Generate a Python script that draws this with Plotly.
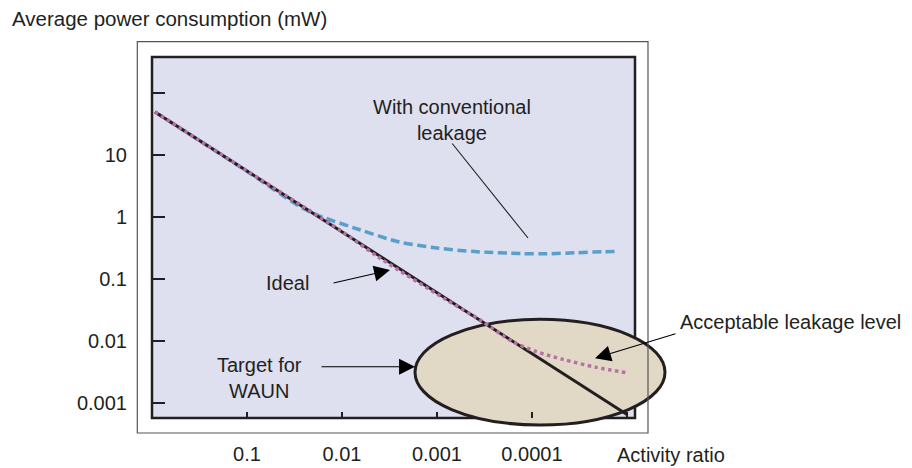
import plotly.graph_objects as go

# ---- data ----
ideal_activity = [0.93, 0.1, 0.01, 0.001, 0.0001, 0.00001]
ideal_power = [50, 5.6, 0.59, 0.062, 0.0065, 0.00066]

conv_activity = [0.93, 0.1, 0.03, 0.02, 0.0065, 0.0025, 0.001, 0.0004, 0.00013,
                 0.00007, 0.000035, 0.000018, 0.0000127]
conv_power = [50, 5.5, 1.6, 1.15, 0.63, 0.40, 0.32, 0.28, 0.26,
              0.258, 0.268, 0.278, 0.282]

acc_activity = [0.93, 0.1, 0.01, 0.004, 0.0008, 0.00035, 0.00016, 0.00009,
                0.000047, 0.000021, 0.00001]
acc_power = [50, 5.6, 0.59, 0.22, 0.047, 0.022, 0.0099, 0.0068,
             0.0051, 0.0038, 0.0031]

x_tickvals = [0.1, 0.01, 0.001, 0.0001, 0.00001]
x_ticktext = ["0.1", "0.01", "0.001", "0.0001", ""]
y_tickvals = [0.001, 0.01, 0.1, 1, 10, 100]
y_ticktext = ["0.001", "0.01", "0.1", "1", "10", ""]

# ---- styles ----
INK = "#231F20"
LAVENDER = "#DEDFEF"
BEIGE = "#E1D9C6"
BLUE = "#5A9FC9"
PINK = "#B672A6"
FONT = "Liberation Sans, Arial, sans-serif"
FS = 20

fig = go.Figure()
fig.add_trace(go.Scatter(x=conv_activity, y=conv_power, mode="lines",
                         line=dict(color=BLUE, width=3.5, dash="9px,4.5px", shape="spline", smoothing=0.8),
                         hoverinfo="skip", showlegend=False))
fig.add_trace(go.Scatter(x=ideal_activity, y=ideal_power, mode="lines",
                         line=dict(color=INK, width=3),
                         hoverinfo="skip", showlegend=False))
fig.add_trace(go.Scatter(x=acc_activity, y=acc_power, mode="lines",
                         line=dict(color=PINK, width=3.5, dash="dot", shape="spline", smoothing=0.8),
                         hoverinfo="skip", showlegend=False))

# plot geometry in pixels (for placing decorations)
L, R, T, B = 152, 635, 57, 418
W, H = R - L, B - T


def px(x):
    return (x - L) / W


def py(y):
    return (B - y) / H


shapes = [
    # inner plot frame
    dict(type="rect", xref="x domain", yref="y domain", x0=0, x1=1, y0=0, y1=1,
         line=dict(color=INK, width=2.5), fillcolor=LAVENDER, layer="below"),
    # target ellipse
    dict(type="circle", xref="x domain", yref="y domain",
         x0=px(415), x1=px(665), y0=py(425), y1=py(319.3),
         line=dict(color=INK, width=3), fillcolor=BEIGE, layer="below"),
    # outer frame
    dict(type="rect", xref="x domain", yref="y domain",
         x0=px(137.3), x1=px(648), y0=py(433), y1=py(41.7),
         line=dict(color="#555555", width=1.2), fillcolor="rgba(0,0,0,0)", layer="below"),
]

tf = dict(family=FONT, size=FS, color=INK)
annotations = [
    dict(text="Average power consumption (mW)", xref="paper", yref="paper",
         x=px(10), y=py(18.5), xanchor="left", yanchor="middle", showarrow=False,
         font=dict(family=FONT, size=20.5, color=INK)),
    dict(text="Activity ratio", xref="paper", yref="paper",
         x=px(615), y=py(455), xanchor="left", yanchor="middle", showarrow=False, font=tf),
    dict(text="With conventional<br>leakage", xref="paper", yref="paper",
         x=px(452), y=py(120), xanchor="center", yanchor="middle", showarrow=False, font=tf),
    dict(text="Ideal", xref="paper", yref="paper",
         x=px(287.5), y=py(282.5), xanchor="center", yanchor="middle", showarrow=False, font=tf),
    dict(text="Target for<br>WAUN", xref="paper", yref="paper",
         x=px(259), y=py(378), xanchor="center", yanchor="middle", showarrow=False, font=tf),
    dict(text="Acceptable leakage level", xref="paper", yref="paper",
         x=px(678), y=py(322), xanchor="left", yanchor="middle", showarrow=False, font=tf),
    # pointer lines / arrows
    dict(text="", xref="paper", yref="paper", x=px(528), y=py(238),
         ax=451 - 528, ay=142 - 238, showarrow=True, arrowhead=0, arrowwidth=1.1, arrowcolor=INK),
    dict(text="", xref="paper", yref="paper", x=px(390), y=py(270),
         ax=332 - 390, ay=283.3 - 270, showarrow=True, arrowhead=2, arrowsize=2.9,
         arrowwidth=1.1, arrowcolor="#000000"),
    dict(text="", xref="paper", yref="paper", x=px(415), y=py(366.7),
         ax=320 - 415, ay=0, showarrow=True, arrowhead=2, arrowsize=2.9,
         arrowwidth=1.1, arrowcolor="#000000"),
    dict(text="", xref="paper", yref="paper", x=px(595), y=py(358.3),
         ax=677 - 595, ay=333.3 - 358.3, showarrow=True, arrowhead=2, arrowsize=2.9,
         arrowwidth=1.1, arrowcolor="#000000"),
]

fig.update_layout(
    width=912, height=468, autosize=False,
    margin=dict(l=L, r=912 - R, t=T, b=468 - B, pad=0, autoexpand=False),
    paper_bgcolor="white", plot_bgcolor=LAVENDER,
    font=tf,
    shapes=shapes, annotations=annotations,
    xaxis=dict(type="log", range=[0, -5.085], tickvals=x_tickvals, ticktext=x_ticktext,
               ticks="inside", ticklen=6, tickwidth=1.5, tickcolor=INK,
               showgrid=False, zeroline=False, showline=False, automargin=False,
               tickfont=tf, ticklabelstandoff=22),
    yaxis=dict(type="log", range=[-3.237, 2.585], tickvals=y_tickvals, ticktext=y_ticktext,
               ticks="inside", ticklen=13, tickwidth=1.5, tickcolor=INK,
               showgrid=False, zeroline=False, showline=False, automargin=False,
               tickfont=tf, ticklabelstandoff=24),
)

fig.write_html("out.html")
